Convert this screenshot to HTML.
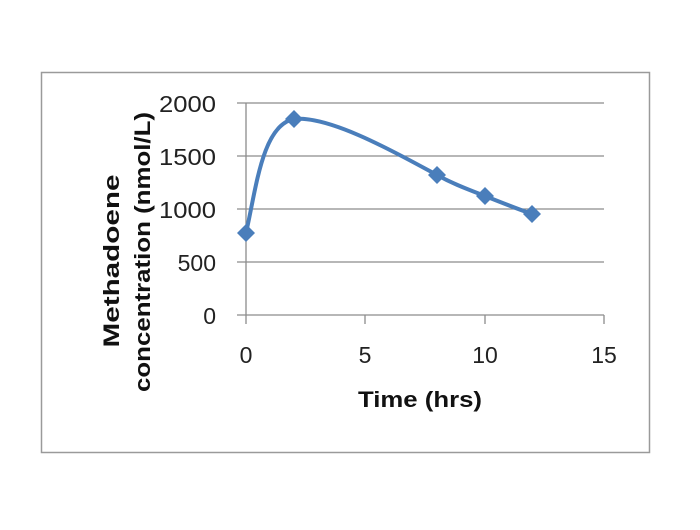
<!DOCTYPE html>
<html><head><meta charset="utf-8"><style>body{margin:0;background:#fff}</style></head><body>
<svg width="700" height="525" xmlns="http://www.w3.org/2000/svg" font-family="Liberation Sans, sans-serif">
<rect width="700" height="525" fill="#fff"/>
<rect x="41.5" y="72.5" width="608" height="380" fill="none" stroke="#9a9a9a" stroke-width="1.5"/>
<g stroke="#8c8c8c" stroke-width="1.3">
<line x1="237" y1="103" x2="604" y2="103"/>
<line x1="237" y1="156" x2="604" y2="156"/>
<line x1="237" y1="209" x2="604" y2="209"/>
<line x1="237" y1="262" x2="604" y2="262"/>
<line x1="237" y1="315" x2="604" y2="315"/>
<line x1="246" y1="103" x2="246" y2="324"/>
<line x1="365" y1="315" x2="365" y2="324"/>
<line x1="485" y1="315" x2="485" y2="324"/>
<line x1="604" y1="315" x2="604" y2="324"/>
</g>
<g font-size="23" fill="#222" text-anchor="end">
<text x="216" y="112" textLength="57" lengthAdjust="spacingAndGlyphs">2000</text>
<text x="216" y="165" textLength="57" lengthAdjust="spacingAndGlyphs">1500</text>
<text x="216" y="218" textLength="57" lengthAdjust="spacingAndGlyphs">1000</text>
<text x="216" y="271">500</text>
<text x="216" y="324">0</text>
</g>
<g font-size="23" fill="#222" text-anchor="middle">
<text x="246" y="363">0</text>
<text x="365" y="363">5</text>
<text x="485" y="363">10</text>
<text x="604" y="363">15</text>
</g>
<text x="358" y="407" font-size="22" font-weight="bold" fill="#111" textLength="124" lengthAdjust="spacingAndGlyphs">Time (hrs)</text>
<g font-size="22" font-weight="bold" fill="#111" text-anchor="middle">
<text transform="translate(119,261) rotate(-90)" textLength="173" lengthAdjust="spacingAndGlyphs">Methadoene</text>
<text transform="translate(150,252) rotate(-90)" textLength="280" lengthAdjust="spacingAndGlyphs">concentration (nmol/L)</text>
</g>
<path d="M246,233 C256,190 262,125 294,119 C330,115 400,155 437,175 C455,185 470,190 485,196 C500,202 515,208 532,214" fill="none" stroke="#4a7ebb" stroke-width="4"/>
<g fill="#4a7ebb">
<path d="M246,224 l9,9 l-9,9 l-9,-9z"/>
<path d="M294,110 l9,9 l-9,9 l-9,-9z"/>
<path d="M437,166 l9,9 l-9,9 l-9,-9z"/>
<path d="M485,187 l9,9 l-9,9 l-9,-9z"/>
<path d="M532,205 l9,9 l-9,9 l-9,-9z"/>
</g>
</svg>
</body></html>
